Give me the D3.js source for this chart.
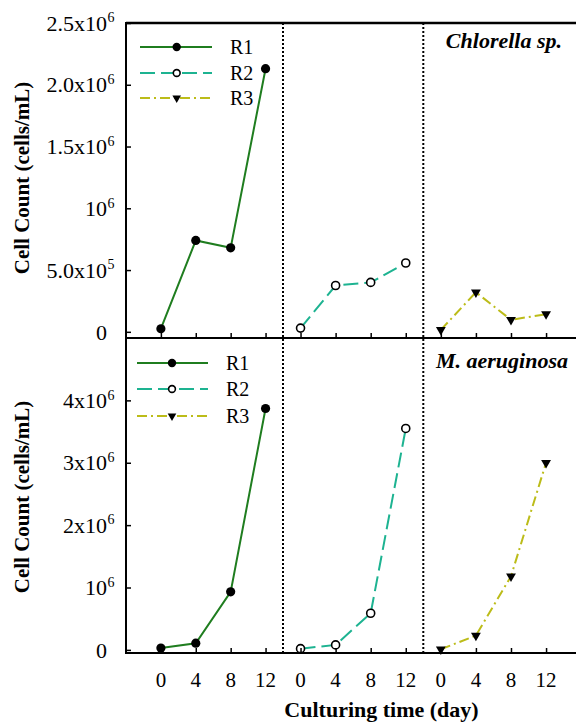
<!DOCTYPE html>
<html>
<head>
<meta charset="utf-8">
<script src="https://cdn.jsdelivr.net/npm/d3@7"></script>
<style>
  body { margin: 0; background: #fff; }
  svg { display: block; font-family: "Liberation Serif", "Times New Roman", serif; }
</style>
</head>
<body>
<div id="chart"></div>
<script>
// culturing days and cell counts (cells/mL)
const days = [0, 4, 8, 12];
const seriesNames = ["R1", "R2", "R3"];

const chlorellaR1 = [25000, 740000, 680000, 2130000];
const chlorellaR2 = [30000, 375000, 400000, 557000];
const chlorellaR3 = [16000, 320000, 97000, 143000];

const microR1 = [30000, 107000, 930000, 3870000];
const microR2 = [20000, 80000, 587000, 3550000];
const microR3 = [10000, 230000, 1180000, 3000000];

const topTicks = [0, 500000, 1000000, 1500000, 2000000, 2500000];
const topTickBase = ["0", "5.0x10", "10", "1.5x10", "2.0x10", "2.5x10"];
const topTickExp = ["", "5", "6", "6", "6", "6"];

const botTicks = [0, 1000000, 2000000, 3000000, 4000000];
const botTickBase = ["0", "10", "2x10", "3x10", "4x10"];
const botTickExp = ["", "6", "6", "6", "6"];

const colors = ["#1f7d1f", "#1db391", "#bcbc19"];
const dashes = [null, "15,6", "10,4,2,4"];

const W = 576, H = 723;
const left = 126, right = 576;
const sep1 = 283, sep2 = 423.3;
const topY = 23, midY = 338, botY = 653;

const svg = d3.select("#chart").append("svg")
  .attr("width", W).attr("height", H);

// one x scale per R panel
const xScales = [
  d3.scaleLinear().domain([-4, 14]).range([left, sep1]),
  d3.scaleLinear().domain([-2, 14]).range([sep1, sep2]),
  d3.scaleLinear().domain([-2, 14]).range([sep2, sep2 + 140.3])
];

const yTop = d3.scaleLinear().domain([-50000, 2500000]).range([midY, topY]);
const yBot = d3.scaleLinear().domain([-50000, 5000000]).range([botY, midY]);

const panels = [
  { y: yTop, data: [chlorellaR1, chlorellaR2, chlorellaR3], ticks: topTicks, base: topTickBase, exp: topTickExp,
    title: "Chlorella sp.", titleX: 562, titleY: 48, legX: [140, 212, 176.7, 230], legY: [47, 73, 98], labelY: 178 },
  { y: yBot, data: [microR1, microR2, microR3], ticks: botTicks, base: botTickBase, exp: botTickExp,
    title: "M. aeruginosa", titleX: 568, titleY: 368, legX: [137, 208, 172, 226], legY: [363, 389, 416], labelY: 497 }
];

function drawMarker(g, i, x, y, small) {
  if (i === 0) {
    g.append("circle").attr("cx", x).attr("cy", y).attr("r", small ? 4.2 : 4.6)
      .attr("fill", "#000");
  } else if (i === 1) {
    g.append("circle").attr("cx", x).attr("cy", y).attr("r", small ? 3.4 : 4)
      .attr("fill", "#fff").attr("stroke", "#000").attr("stroke-width", 1.6);
  } else {
    g.append("path")
      .attr("d", d3.symbol().type(d3.symbolTriangle).size(small ? 32 : 42)())
      .attr("transform", `translate(${x},${y}) rotate(180)`)
      .attr("fill", "#000");
  }
}

panels.forEach(p => {
  const bottom = p.y.range()[0];

  // series, each in its own section
  p.data.forEach((vals, i) => {
    const x = xScales[i];
    const pts = days.map((d, k) => [x(d), p.y(vals[k])]);
    svg.append("path")
      .attr("d", d3.line()(pts))
      .attr("fill", "none")
      .attr("stroke", colors[i])
      .attr("stroke-width", 2)
      .attr("stroke-dasharray", dashes[i]);
    const mg = svg.append("g");
    pts.forEach(pt => drawMarker(mg, i, pt[0], pt[1], false));
  });

  // x axis ticks (inward), no labels here
  xScales.forEach(x => {
    svg.append("g")
      .attr("transform", `translate(0,${bottom})`)
      .call(d3.axisBottom(x).tickValues(days).tickSizeInner(-5).tickSizeOuter(0).tickFormat(""))
      .call(g => g.select(".domain").remove())
      .call(g => g.selectAll("line").attr("stroke-width", 1.5));
  });

  // y axis with inward ticks
  svg.append("g")
    .attr("transform", `translate(${left},0)`)
    .call(d3.axisLeft(p.y).tickValues(p.ticks).tickSizeInner(-5).tickSizeOuter(0).tickFormat(""))
    .call(g => g.select(".domain").remove())
    .call(g => g.selectAll("line").attr("stroke-width", 1.5));

  p.ticks.forEach((t, k) => {
    svg.append("text")
      .attr("x", 107).attr("y", p.y(t)).attr("dy", "0.35em")
      .attr("text-anchor", "end").attr("font-size", 22)
      .text(p.base[k]);
    if (p.exp[k]) {
      svg.append("text")
        .attr("x", 107.5).attr("y", p.y(t)).attr("dy", "-0.05em")
        .attr("font-size", 14)
        .text(p.exp[k]);
    }
  });

  // y axis title
  svg.append("text")
    .attr("transform", `translate(29,${p.labelY}) rotate(-90)`)
    .attr("text-anchor", "middle")
    .attr("font-size", 21).attr("font-weight", "bold")
    .text("Cell Count (cells/mL)");

  // species name
  svg.append("text")
    .attr("x", p.titleX).attr("y", p.titleY)
    .attr("text-anchor", "end")
    .attr("font-size", 22).attr("font-weight", "bold").attr("font-style", "italic")
    .text(p.title);

  // legend
  seriesNames.forEach((name, i) => {
    const ly = p.legY[i];
    svg.append("line")
      .attr("x1", p.legX[0]).attr("x2", p.legX[1]).attr("y1", ly).attr("y2", ly)
      .attr("stroke", colors[i]).attr("stroke-width", 2)
      .attr("stroke-dasharray", dashes[i]);
    drawMarker(svg.append("g"), i, p.legX[2], ly, true);
    svg.append("text")
      .attr("x", p.legX[3]).attr("y", ly).attr("dy", "0.35em")
      .attr("font-size", 20)
      .text(name);
  });
});

// frame lines
svg.append("line").attr("x1", left).attr("x2", right).attr("y1", topY).attr("y2", topY)
  .attr("stroke", "#000").attr("stroke-width", 2.5);
[midY, botY].forEach(y => {
  svg.append("line").attr("x1", left).attr("x2", right).attr("y1", y).attr("y2", y)
    .attr("stroke", "#000").attr("stroke-width", 2);
});
svg.append("line").attr("x1", left).attr("x2", left).attr("y1", topY - 1).attr("y2", botY + 1)
  .attr("stroke", "#000").attr("stroke-width", 2);

// dotted separators between R1 / R2 / R3
[sep1, sep2].forEach(x => {
  svg.append("line").attr("x1", x).attr("x2", x).attr("y1", topY).attr("y2", botY)
    .attr("stroke", "#000").attr("stroke-width", 2).attr("stroke-dasharray", "2,2");
});

// day labels under the bottom panel
xScales.forEach(x => {
  days.forEach(d => {
    svg.append("text")
      .attr("x", x(d)).attr("y", 680).attr("dy", "0.35em")
      .attr("text-anchor", "middle").attr("font-size", 21)
      .text(d);
  });
});

svg.append("text")
  .attr("x", 381.5).attr("y", 717)
  .attr("text-anchor", "middle")
  .attr("font-size", 22).attr("font-weight", "bold")
  .text("Culturing time (day)");
</script>
</body>
</html>
